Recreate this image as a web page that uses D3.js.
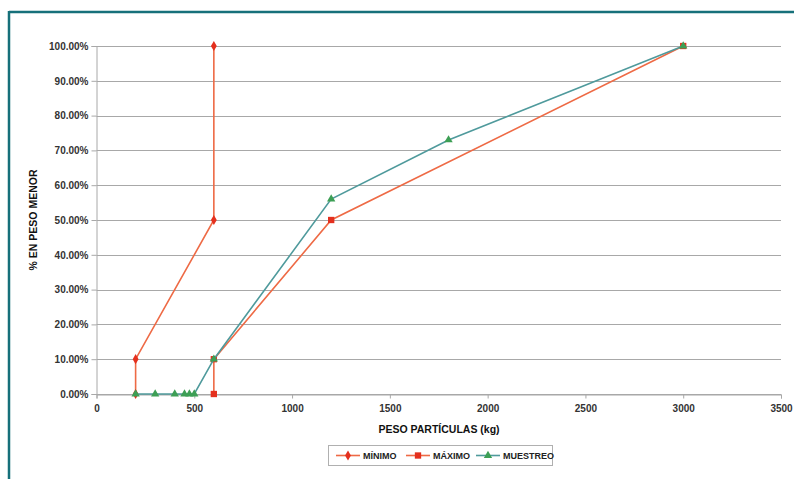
<!DOCTYPE html>
<html><head><meta charset="utf-8">
<script src="https://cdn.jsdelivr.net/npm/d3@7"></script>
<style>
body{margin:0;background:#fff;}
svg{display:block;font-family:"Liberation Sans",Arial,sans-serif;}
</style></head>
<body><svg id="c" width="794" height="479"></svg>
<script>
const seriesNames = ["MÍNIMO", "MÁXIMO", "MUESTREO"];
const minimoX = [200, 200, 600, 600];
const minimoY = [0, 0.10, 0.50, 1.00];
const maximoX = [600, 600, 1200, 3000];
const maximoY = [0, 0.10, 0.50, 1.00];
const muestreoX = [200, 300, 400, 450, 475, 500, 600, 1200, 1800, 3000];
const muestreoY = [0, 0, 0, 0, 0, 0, 0.10, 0.56, 0.73, 1.00];
const xTicks = [0, 500, 1000, 1500, 2000, 2500, 3000, 3500];
const yTicks = [0, 0.1, 0.2, 0.3, 0.4, 0.5, 0.6, 0.7, 0.8, 0.9, 1.0];

const svg = d3.select("#c");
// frame
svg.append("rect").attr("x",0).attr("y",0).attr("width",794).attr("height",479).attr("fill","#fff");
svg.append("line").attr("x1",9).attr("x2",794).attr("y1",12).attr("y2",12).attr("stroke","#16707a").attr("stroke-width",2.5);
svg.append("line").attr("x1",9).attr("x2",9).attr("y1",11).attr("y2",479).attr("stroke","#16707a").attr("stroke-width",2.5);

const x = d3.scaleLinear().domain([0,3500]).range([96.5,781]);
const y = d3.scaleLinear().domain([0,1]).range([394,46]);

// gridlines
svg.append("g").selectAll("line").data(yTicks).join("line")
  .attr("x1",96.5).attr("x2",781).attr("y1",d=>Math.round(y(d))+0.5).attr("y2",d=>Math.round(y(d))+0.5)
  .attr("stroke","#a8a8a8").attr("stroke-width",1);

const fmt = d=>(d*100).toFixed(2)+"%";
const yAxis = svg.append("g").attr("transform","translate(96.5,0)")
  .call(d3.axisLeft(y).tickValues(yTicks).tickFormat(fmt).tickSize(5).tickPadding(3));
const xAxis = svg.append("g").attr("transform","translate(0,394.5)")
  .call(d3.axisBottom(x).tickValues(xTicks).tickFormat(d3.format("d")).tickSize(4).tickPadding(6));
[yAxis,xAxis].forEach(a=>{
  a.select(".domain").attr("stroke","#a8a8a8");
  a.selectAll(".tick line").attr("stroke","#a8a8a8");
  a.selectAll(".tick text").attr("fill","#333").attr("font-size","10px").attr("font-weight","bold")
   .attr("font-family","'Liberation Sans',Arial,sans-serif");
});

svg.append("text").attr("x",439).attr("y",433).attr("text-anchor","middle")
  .attr("font-size","10.5px").attr("font-weight","bold").attr("fill","#111").text("PESO PARTÍCULAS (kg)");
svg.append("text").attr("transform","translate(37,220) rotate(-90)").attr("text-anchor","middle")
  .attr("font-size","10.5px").attr("font-weight","bold").attr("fill","#111").text("% EN PESO MENOR");

const line = d3.line().x(d=>x(d[0])).y(d=>y(d[1]));
const series = [
  {name:seriesNames[0], pts:d3.zip(minimoX,minimoY), stroke:"#ee6a45", fill:"#e4301e", shape:d3.symbolDiamond, size:30},
  {name:seriesNames[1], pts:d3.zip(maximoX,maximoY), stroke:"#ee6a45", fill:"#e4301e", shape:d3.symbolSquare, size:40},
  {name:seriesNames[2], pts:d3.zip(muestreoX,muestreoY), stroke:"#4f9a9c", fill:"#3d9f55", shape:d3.symbolTriangle, size:30}
];
series.forEach(s=>{
  svg.append("path").attr("d",line(s.pts)).attr("fill","none").attr("stroke",s.stroke).attr("stroke-width",1.6);
  svg.append("g").selectAll("path").data(s.pts).join("path")
    .attr("transform",d=>`translate(${x(d[0])},${y(d[1])})`)
    .attr("d",d3.symbol().type(s.shape).size(s.size)).attr("fill",s.fill);
});

// legend
const lg = svg.append("g");
lg.append("rect").attr("x",328.5).attr("y",445.5).attr("width",224).attr("height",20)
  .attr("fill","#fff").attr("stroke","#b0b0b0");
const lx = [336, 406, 476];
series.forEach((s,i)=>{
  const cx = lx[i];
  lg.append("line").attr("x1",cx).attr("x2",cx+24).attr("y1",455.5).attr("y2",455.5).attr("stroke",s.stroke).attr("stroke-width",1.6);
  lg.append("path").attr("transform",`translate(${cx+12},455.5)`).attr("d",d3.symbol().type(s.shape).size(s.size)).attr("fill",s.fill);
  lg.append("text").attr("x",cx+27).attr("y",459).attr("font-size","9px").attr("font-weight","bold").attr("fill","#222").text(s.name);
});
</script></body></html>
